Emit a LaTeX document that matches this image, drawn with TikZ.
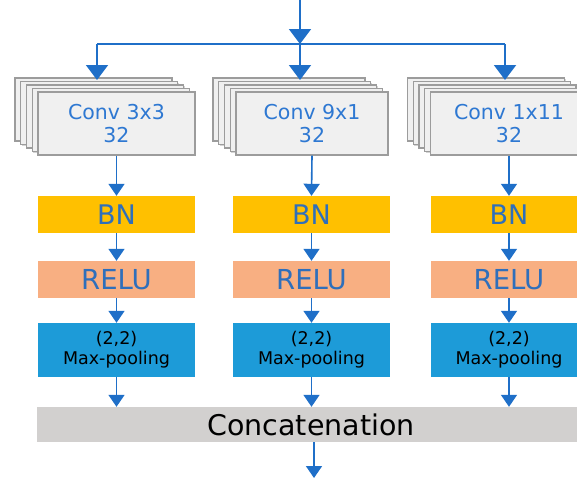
\documentclass[tikz,border=0pt]{standalone}
\usepackage{fontspec}
\setmainfont{DejaVu Sans}
\usetikzlibrary{arrows.meta,shadows}
\definecolor{arr}{HTML}{1F6FC8}
\definecolor{convtxt}{HTML}{2E78D2}
\definecolor{convfill}{HTML}{F0F0F0}
\definecolor{convdraw}{HTML}{9C9C9C}
\definecolor{bnfill}{HTML}{FFC000}
\definecolor{relufill}{HTML}{F8AF82}
\definecolor{poolfill}{HTML}{1D9BD8}
\definecolor{ccfill}{HTML}{D2D0CF}
\definecolor{boxtxt}{HTML}{2F6FBB}
\begin{document}
\begin{tikzpicture}[x=1pt,y=-1pt,
  convbox/.style={draw=convdraw,line width=1.1pt,fill=convfill,minimum height=63pt,inner sep=0pt,
    drop shadow={shadow xshift=1.2pt,shadow yshift=-1.2pt,opacity=0.35}},
  convtext/.style={text=convtxt,font=\fontsize{20.5}{23}\selectfont,align=center},
  bnbox/.style={fill=bnfill,minimum width=157pt,minimum height=37pt,inner sep=0pt,text=boxtxt,font=\fontsize{27}{30}\selectfont},
  relubox/.style={fill=relufill,minimum width=157pt,minimum height=37pt,inner sep=0pt,text=boxtxt,font=\fontsize{27.5}{30}\selectfont},
  poolbox/.style={fill=poolfill,minimum width=157pt,minimum height=54pt,inner sep=0pt,text=black,align=center,font=\fontsize{17.5}{20}\selectfont},
  ccbox/.style={fill=ccfill,minimum width=548pt,minimum height=35pt,inner sep=0pt,text=black,font=\fontsize{28.5}{32}\selectfont},
  bigarrow/.style={draw=arr,line width=2pt,-{Triangle[width=22pt,length=15pt]}},
  bigline/.style={draw=arr,line width=2pt},
  smallarrow/.style={draw=arr,line width=1.6pt,-{Triangle[width=16pt,length=12pt]}}
]
\useasboundingbox (0,0) rectangle (577,477);
\clip (0,0) rectangle (577,477);

% conv stacks
\foreach \i in {4,3,2,1}{
  \node[convbox,minimum width=157pt] (c1l\i) at (116.5-\i*5.75,123.5-\i*3.5) {};
  \node[convbox,minimum width=152pt] (c2l\i) at (312-\i*5.75,123.5-\i*3.5) {};
  \node[convbox,minimum width=157pt] (c3l\i) at (509-\i*5.75,123.5-\i*3.5) {};
}
\node[convbox,minimum width=157pt] (c1) at (116.5,123.5) {};
\node[convbox,minimum width=152pt] (c2) at (312,123.5) {};
\node[convbox,minimum width=157pt] (c3) at (509,123.5) {};
\node[convtext] (c1t) at (c1) {Conv 3x3\\32};
\node[convtext] (c2t) at (c2) {Conv 9x1\\32};
\node[convtext] (c3t) at (c3) {Conv 1x11\\32};

% BN
\node[bnbox] (bn1) at (116.5,214.5) {BN};
\node[bnbox] (bn2) at (311.5,214.5) {BN};
\node[bnbox] (bn3) at (509,214.5) {BN};
% RELU
\node[relubox] (r1) at (116.5,279.5) {RELU};
\node[relubox] (r2) at (311.5,279.5) {RELU};
\node[relubox] (r3) at (509,279.5) {RELU};
% pooling
\node[poolbox] (p1) at (116.5,350) {(2,2)\\Max-pooling};
\node[poolbox] (p2) at (311.5,350) {(2,2)\\Max-pooling};
\node[poolbox] (p3) at (509,350) {(2,2)\\Max-pooling};
% concat
\node[ccbox] (cc) at (311,424.5) {Concatenation};

% top arrows
\coordinate (in) at (300,0);
\coordinate (sp) at (300,44);
\coordinate (t1) at (97,80);
\coordinate (t2) at (300,80);
\coordinate (t3) at (505,80);
\coordinate (out) at (314,478);
\draw[bigarrow] (in) -- (sp);
\draw[bigline] (t1 |- sp) -- (t3 |- sp);
\draw[bigarrow] (sp -| t1) -- (t1);
\draw[bigarrow] (sp) -- (t2);
\draw[bigarrow] (sp -| t3) -- (t3);

% column arrows
\foreach \k in {1,2,3}{
  \draw[smallarrow] (c\k.south) -- (bn\k.north);
  \draw[smallarrow] (bn\k.south) -- (r\k.north);
  \draw[smallarrow] (r\k.south) -- (p\k.north);
  \draw[smallarrow] (p\k.south) -- (p\k.south |- cc.north);
}
\draw[smallarrow] (cc.south -| out) -- (out);
\end{tikzpicture}
\end{document}
